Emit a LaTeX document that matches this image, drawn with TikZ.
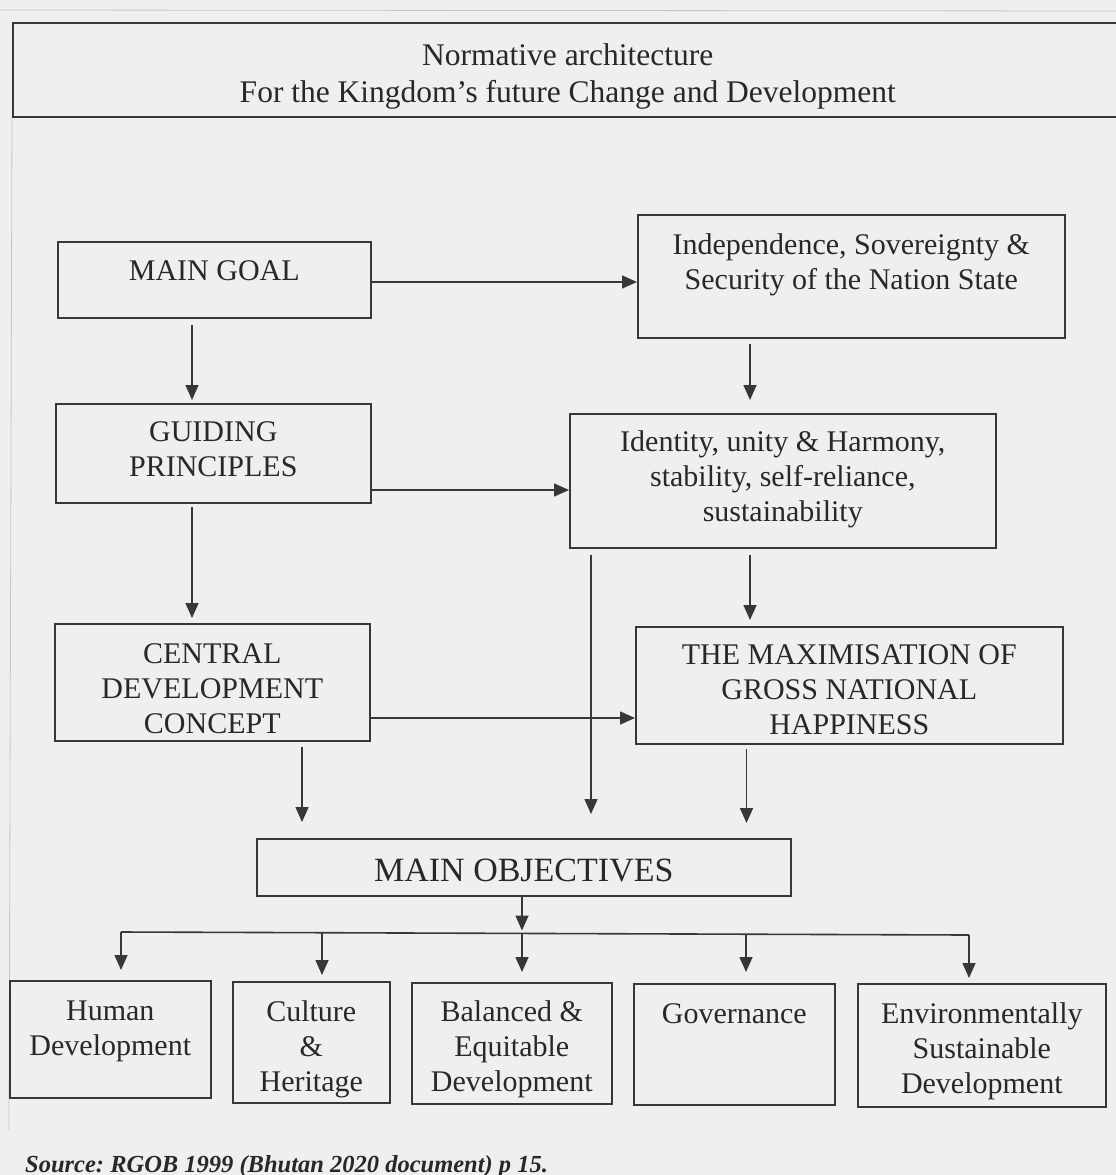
\documentclass[tikz,border=0pt]{standalone}
\usepackage{fontspec}
\setmainfont{Liberation Serif}
\usetikzlibrary{arrows.meta,calc}
\definecolor{bgc}{RGB}{239,239,237}
\definecolor{ink}{RGB}{55,55,55}
\definecolor{txt}{RGB}{40,40,40}
\newcommand\bxt[4]{\parbox[c][#2][t]{#1}{\centering\vspace*{#3}#4\par}}
\frenchspacing
\begin{document}
\begin{tikzpicture}[x=1pt,y=-1pt,
  box/.style={draw=ink, line width=1.6pt, inner sep=0pt, anchor=north west, text=txt, font=\fontsize{30}{35}\selectfont},
  arr/.style={draw=ink, line width=1.6pt, -{Triangle[length=15pt,width=13pt]}},
  ln/.style={draw=ink, line width=1.6pt},
  faint/.style={draw=gray!45, line width=0.8pt}]
\fill[bgc] (0,0) rectangle (1116,1175);
\useasboundingbox (0,0) rectangle (1116,1175);
\draw[faint] (0,10) -- (1116,11);
\draw[faint] (12,116) -- (9,1130);
% title
\node[box, font=\fontsize{31.5}{37}\selectfont] (title) at (12,22)
  {\bxt{1110pt}{94pt}{21pt}{Normative architecture\\For the Kingdom’s future Change and Development}};
% main boxes
\node[box] (mg) at (57,241) {\bxt{313pt}{76pt}{19pt}{MAIN GOAL}};
\node[box] (ind) at (637,214) {\bxt{427pt}{123pt}{19pt}{Independence, Sovereignty \&\\Security of the Nation State}};
\node[box] (gp) at (55,403) {\bxt{315pt}{99pt}{18pt}{GUIDING\\PRINCIPLES}};
\node[box] (id) at (569,413) {\bxt{426pt}{134pt}{17pt}{Identity, unity \& Harmony,\\stability, self-reliance,\\sustainability}};
\node[box] (cdc) at (54,623) {\bxt{315pt}{117pt}{20pt}{CENTRAL\\DEVELOPMENT\\CONCEPT}};
\node[box] (max) at (635,626) {\bxt{427pt}{117pt}{18pt}{THE MAXIMISATION OF\\GROSS NATIONAL\\HAPPINESS}};
\node[box, font=\fontsize{34}{40}\selectfont] (mo) at (256,838) {\bxt{534pt}{57pt}{20pt}{MAIN OBJECTIVES}};
% bottom boxes
\node[box] (hd) at (9,980) {\bxt{201pt}{117pt}{20pt}{Human\\Development}};
\node[box] (ch) at (232,981) {\bxt{157pt}{121pt}{19pt}{Culture\\\&\\Heritage}};
\node[box] (be) at (411,982) {\bxt{200pt}{121pt}{18pt}{Balanced \&\\Equitable\\Development}};
\node[box] (gov) at (633,983) {\bxt{201pt}{121pt}{20pt}{Governance}};
\node[box] (esd) at (857,983) {\bxt{248pt}{123pt}{19pt}{Environmentally\\Sustainable\\Development}};
% source
\node[anchor=base west, inner sep=0pt, text=txt, font=\fontsize{24.5}{28}\selectfont\bfseries\itshape] (src) at (25,1172)
  {Source: RGOB 1999 (Bhutan 2020 document) p 15.};
% guides
\coordinate (xa) at (192,0);
\coordinate (xb) at (750,0);
\coordinate (xc) at (591,0);
\coordinate (xd) at (302,0);
\coordinate (xe) at (746.5,0);
\coordinate (ya) at (0,282);
\coordinate (yb) at (0,490);
\coordinate (yc) at (0,718);
% connectors
\draw[arr] (mg.east |- ya) -- (ind.west |- ya);
\draw[arr, shorten <=6pt, shorten >=3pt] (mg.south -| xa) -- (gp.north -| xa);
\draw[arr, shorten <=5pt, shorten >=13pt] (ind.south -| xb) -- (id.north -| xb);
\draw[arr] (gp.east |- yb) -- (id.west |- yb);
\draw[arr, shorten <=3pt, shorten >=5pt] (gp.south -| xa) -- (cdc.north -| xa);
\draw[arr, shorten <=6pt, shorten >=6pt] (id.south -| xb) -- (max.north -| xb);
\draw[arr, shorten <=6pt, shorten >=24pt] (id.south -| xc) -- (mo.north -| xc);
\draw[arr] (cdc.east |- yc) -- (max.west |- yc);
\draw[arr, shorten <=5pt, shorten >=16pt] (cdc.south -| xd) -- (mo.north -| xd);
\draw[arr, shorten <=4pt, shorten >=15pt] (max.south -| xe) -- (mo.north -| xe);
% distribution bus
\coordinate (b1) at (121,932);
\coordinate (b2) at (322,933);
\coordinate (b3) at (522,933.5);
\coordinate (b4) at (746,934);
\coordinate (b5) at (969,935);
\draw[arr, shorten >=3pt] (mo.south -| b3) -- (b3);
\draw[ln] (b1) -- (b5);
\draw[arr, shorten >=10pt] (b1) -- (b1 |- hd.north);
\draw[arr, shorten >=6pt] (b2) -- (b2 |- ch.north);
\draw[arr, shorten >=10pt] (b3) -- (b3 |- be.north);
\draw[arr, shorten >=11pt] (b4) -- (b4 |- gov.north);
\draw[arr, shorten >=5pt] (b5) -- (b5 |- esd.north);
\end{tikzpicture}
\end{document}
